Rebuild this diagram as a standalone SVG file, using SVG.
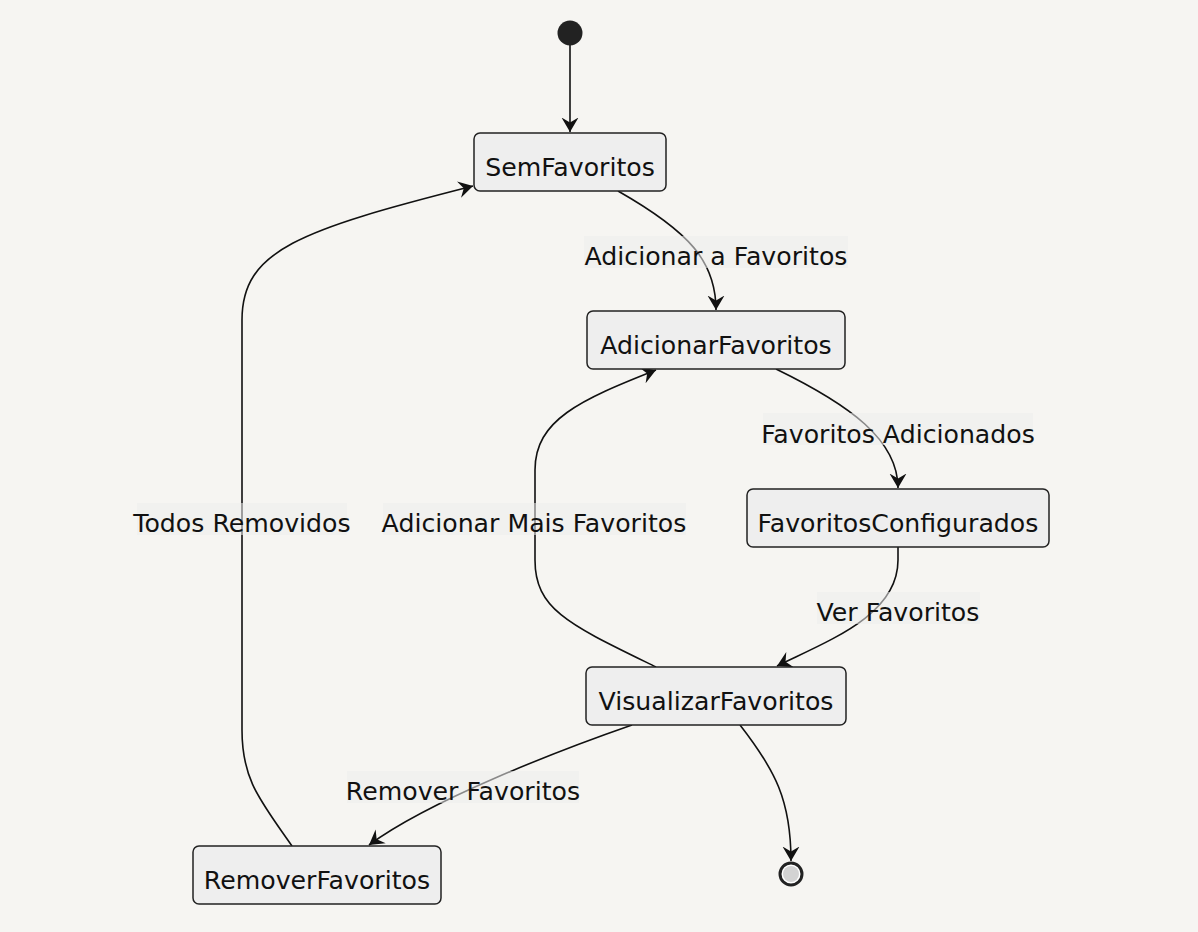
<svg xmlns="http://www.w3.org/2000/svg" width="1198" height="932" viewBox="0 0 1198 932">
<style>
.node rect{fill:#eeeeee;stroke:#222222;stroke-width:1.5}
.node text,.lbl text{font-family:"DejaVu Sans",Verdana,sans-serif;font-size:25.2px;fill:#111111;text-anchor:middle}
.edge{fill:none;stroke:#111111;stroke-width:1.6}
.lbl rect{fill:#ececec;fill-opacity:0.55}
</style>
<defs>
<marker id="arr" viewBox="0 0 15 18" markerWidth="15" markerHeight="18" refX="14.5" refY="9" orient="auto" markerUnits="userSpaceOnUse">
<path d="M0,0.5 L14.5,9 L0,17.5 L5,9 z" fill="#111111"/>
</marker>
</defs>
<rect width="1198" height="932" fill="#f6f5f2"/>
<g id="connectors">
<path class="edge" d="M570,45 L570,132" marker-end="url(#arr)"/>
<path class="edge" d="M618,191 C690,232 716,262 716,310" marker-end="url(#arr)"/>
<path class="edge" d="M776,369 C850,405 898,440 898,488" marker-end="url(#arr)"/>
<path class="edge" d="M898,547 L898,560 C898,615 830,640 777,666" marker-end="url(#arr)"/>
<path class="edge" d="M656,667 C570,625 535,610 535,560 L535,470 C535,420 580,400 656,370" marker-end="url(#arr)"/>
<path class="edge" d="M632,725 C560,750 430,800 369,845" marker-end="url(#arr)"/>
<path class="edge" d="M292,846 C260,800 242,780 242,730 L242,320 C242,250 300,230 473,186" marker-end="url(#arr)"/>
<path class="edge" d="M740,725 C775,770 791,800 791,861" marker-end="url(#arr)"/>
</g>
<g id="labels">
<g class="lbl"><rect x="584" y="236" width="264" height="32"/><text x="716" y="265">Adicionar a Favoritos</text></g>
<g class="lbl"><rect x="763" y="413" width="270" height="32"/><text x="898" y="443">Favoritos Adicionados</text></g>
<g class="lbl"><rect x="817" y="592" width="163" height="32"/><text x="898" y="621">Ver Favoritos</text></g>
<g class="lbl"><rect x="383" y="503" width="303" height="32"/><text x="534" y="532">Adicionar Mais Favoritos</text></g>
<g class="lbl"><rect x="347" y="771" width="232" height="32"/><text x="463" y="800">Remover Favoritos</text></g>
<g class="lbl"><rect x="137" y="503" width="210" height="32"/><text x="242" y="532">Todos Removidos</text></g>
</g>
<g id="start"><circle cx="570" cy="33" r="12.5" fill="#222222"/></g>
<g id="SemFavoritos" class="node"><rect x="474" y="133" width="192" height="58" rx="6"/><text x="570" y="176">SemFavoritos</text></g>
<g id="AdicionarFavoritos" class="node"><rect x="587" y="311" width="258" height="58" rx="6"/><text x="716" y="354">AdicionarFavoritos</text></g>
<g id="FavoritosConfigurados" class="node"><rect x="747" y="489" width="302" height="58" rx="6"/><text x="898" y="532">FavoritosConfigurados</text></g>
<g id="VisualizarFavoritos" class="node"><rect x="586" y="667" width="260" height="58" rx="6"/><text x="716" y="710">VisualizarFavoritos</text></g>
<g id="RemoverFavoritos" class="node"><rect x="193" y="846" width="248" height="58" rx="6"/><text x="317" y="889">RemoverFavoritos</text></g>
<g id="end"><circle cx="791" cy="874" r="11" fill="#ffffff" stroke="#222222" stroke-width="3"/><circle cx="791" cy="874" r="8" fill="#d3d3d3"/></g>
</svg>
